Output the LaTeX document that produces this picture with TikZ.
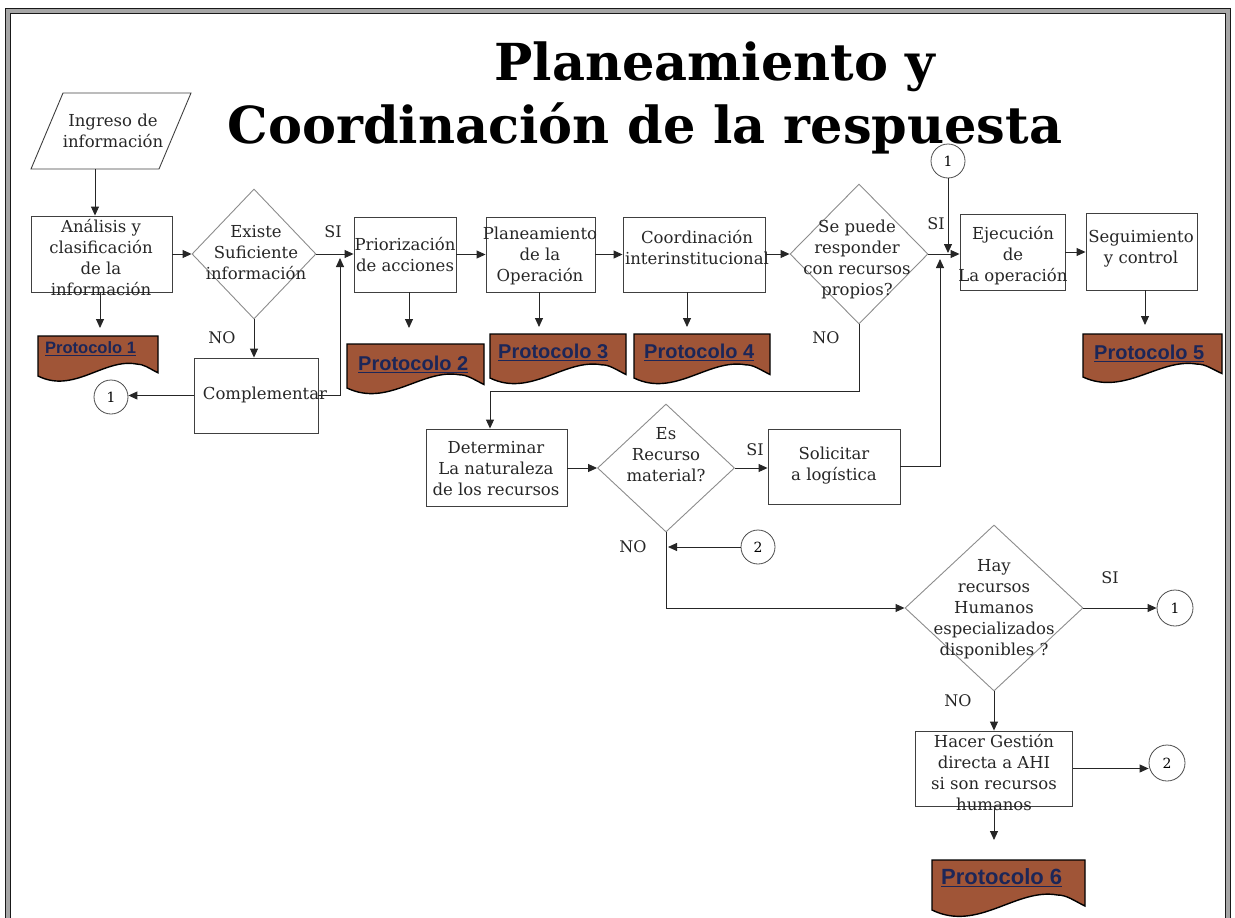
\documentclass[tikz,border=0pt]{standalone}
\usepackage{fontspec}
\setmainfont{DejaVu Serif}
\newfontfamily\protfont{Liberation Sans}
\usetikzlibrary{shapes.geometric,arrows.meta,calc}
\definecolor{docfill}{RGB}{160,85,55}
\definecolor{doctext}{RGB}{28,38,88}
\tikzset{
 arr/.style={-{Triangle[length=9pt,width=8pt]}, line width=0.9pt, draw=black!85},
 boxn/.style={draw=black!75, line width=0.9pt, rectangle, inner sep=0pt},
 dian/.style={draw=black!45, line width=0.9pt, diamond, inner sep=0pt},
 circn/.style={draw=black!70, line width=0.8pt, circle, inner sep=0pt, minimum size=34pt, font=\fontsize{14}{16}\selectfont},
 txt/.style={font=\fontsize{16.5}{21}\selectfont, align=center, text=black!85, inner sep=0pt},
 lab/.style={font=\fontsize{16}{18}\selectfont, text=black!85, inner sep=0pt},
 docshape/.style={fill=docfill, draw=black, line width=1.4pt},
 doctxt/.style={text=doctext, anchor=west, inner sep=0pt},
 ttl/.style={font=\fontsize{51}{58}\selectfont\bfseries, inner sep=0pt, anchor=base},
}
\newcommand{\protdoc}[9]{%
  \draw[docshape] (#2,#3) -- (#2+#4,#3) -- (#2+#4,#3+0.92*#5)
   .. controls (#2+0.92*#4,#3+0.8*#5) and (#2+0.88*#4,#3+0.7*#5) .. (#2+0.82*#4,#3+0.7*#5)
   .. controls (#2+0.55*#4,#3+0.55*#5) and (#2+0.3*#4,#3+1.45*#5) .. (#2,#3+#5) -- cycle;
  \node[doctxt, font=\protfont\bfseries\fontsize{#6}{#6}\selectfont] (#1) at (#7,#8) {\underline{#9}};
}
\begin{document}
\begin{tikzpicture}[x=1pt,y=-1pt]
\useasboundingbox (0,0) rectangle (1235,918);
% frame
\draw[line width=5pt, black!35] (8,11) rectangle (1228,960);
\draw[line width=1.4pt, black!90] (5.5,8.5) rectangle (1230.5,965);
\draw[line width=1.4pt, black!90] (10.5,13.5) rectangle (1225.5,955);
% title
\node[ttl] (t1) at (715,80) {Planeamiento y};
\node[ttl] (t2) at (645,143) {Coordinación de la respuesta};
% input parallelogram
\draw[draw=black!75, line width=0.9pt] (63,93) -- (191,93) -- (159,169) -- (31,169) -- cycle;
\node[txt] (ing) at (113,131) {Ingreso de\\información};
\coordinate (ingB) at (95,169);
% boxes and decisions
\node[boxn, minimum width=141pt, minimum height=76pt] (ana) at (101.5,254) {};
\node[dian, minimum width=124pt, minimum height=130pt] (exi) at (254,254) {};
\node[boxn, minimum width=124pt, minimum height=75pt] (comp) at (256,395.5) {};
\node[boxn, minimum width=102pt, minimum height=75pt] (pri) at (405,254.5) {};
\node[boxn, minimum width=109pt, minimum height=75pt] (pla) at (540.5,254.5) {};
\node[boxn, minimum width=142pt, minimum height=75pt] (coo) at (694,254.5) {};
\node[dian, minimum width=138pt, minimum height=140pt] (sep) at (859,254) {};
\node[boxn, minimum width=105pt, minimum height=76pt] (eje) at (1012.5,252) {};
\node[boxn, minimum width=111pt, minimum height=77pt] (seg) at (1141.5,251.5) {};
\node[boxn, minimum width=141pt, minimum height=77pt] (det) at (496.5,467.5) {};
\node[dian, minimum width=137pt, minimum height=128pt] (esr) at (666,468) {};
\node[boxn, minimum width=132pt, minimum height=75pt] (sol) at (834,466.5) {};
\node[dian, minimum width=178pt, minimum height=166pt] (hay) at (994,608) {};
\node[boxn, minimum width=157pt, minimum height=75pt] (hac) at (994,768.5) {};
% texts
\node[txt] (anat) at (101,258) {Análisis y\\clasificación\\de la\\información};
\node[txt] (exit) at (256,253) {Existe\\Suficiente\\información};
\node[txt] (compt) at (265,395) {Complementar};
\node[txt] (prit) at (405,254.5) {Priorización\\de acciones};
\node[txt] (plat) at (540,256) {Planeamiento\\de la\\Operación};
\node[txt] (coot) at (697,247.5) {Coordinación\\interinstitucional};
\node[txt] (sept) at (857,259.5) {Se puede\\responder\\con recursos\\propios?};
\node[txt] (ejet) at (1013,256) {Ejecución\\de\\La operación};
\node[txt] (segt) at (1141,248.5) {Seguimiento\\y control};
\node[txt] (dett) at (496,469) {Determinar\\La naturaleza\\de los recursos};
\node[txt] (esrt) at (666,455) {Es\\Recurso\\material?};
\node[txt] (solt) at (834,466) {Solicitar\\a logística};
\node[txt] (hayt) at (994,609.5) {Hay\\recursos\\Humanos\\especializados\\disponibles ?};
\node[txt] (hact) at (994,773) {Hacer Gestión\\directa a AHI\\si son recursos\\humanos};
% connectors circles
\node[circn] (c1a) at (111,397) {1};
\node[circn] (c1b) at (948,161) {1};
\node[circn] (c2a) at (758,547) {2};
\node[circn, minimum size=36pt] (c1c) at (1175,608) {1};
\node[circn, minimum size=36pt] (c2b) at (1167,763) {2};
% labels
\node[lab] (si1) at (333,232) {SI};
\node[lab] (no1) at (222,338) {NO};
\node[lab] (si2) at (936,224) {SI};
\node[lab] (no2) at (826,338) {NO};
\node[lab] (si3) at (755,450) {SI};
\node[lab] (no3) at (633,547) {NO};
\node[lab] (si4) at (1110,578) {SI};
\node[lab] (no4) at (958,701) {NO};
% protocol documents
\protdoc{p1}{38}{336}{120}{40}{16.5}{45}{349}{Protocolo 1}
\protdoc{p2}{347}{344}{137}{44}{20}{358}{364}{Protocolo 2}
\protdoc{p3}{490}{334}{136}{44}{20}{498}{352}{Protocolo 3}
\protdoc{p4}{634}{334}{136}{44}{20}{644}{352}{Protocolo 4}
\protdoc{p5}{1083}{334}{139}{43}{20}{1094}{353}{Protocolo 5}
\protdoc{p6}{932}{860}{153}{50}{22}{941}{878}{Protocolo 6}
% junction coordinates
\coordinate (j1) at (340,258);
\coordinate (j2) at (948,253);
\coordinate (j3) at (940,259);
\coordinate (j4) at (668,547);
\coordinate (k1) at (490,391);
\coordinate (p1in) at (100,328);
\coordinate (p2in) at (409,328);
\coordinate (p3in) at (539,327);
\coordinate (p4in) at (687,327);
\coordinate (p5in) at (1145,325);
\coordinate (p6in) at (994,840);
% arrows
\draw[arr] (ingB) -- (ingB |- ana.north);
\draw[arr] (ana.east |- exi.west) -- (exi.west);
\draw[arr] (exi.east) -- (exi.east -| pri.west);
\draw[arr] (exi.south) -- (exi.south |- comp.north);
\draw[arr] (comp.west) -- (comp.west -| c1a.east);
\draw[arr] (comp.east) -| (j1);
\draw[arr] (pri.east) -- (pla.west);
\draw[arr] (pla.east) -- (coo.west);
\draw[arr] (coo.east |- sep.west) -- (sep.west);
\draw[arr] (sep.east) -- (sep.east -| eje.west);
\draw[arr] (c1b.south) -- (j2);
\draw[arr] (sol.east) -| (j3);
\draw[arr] (eje.east) -- (eje.east -| seg.west);
\draw[arr] (sep.south) |- (k1) -- (k1 |- det.north);
\draw[arr] (det.east |- esr.west) -- (esr.west);
\draw[arr] (esr.east) -- (esr.east -| sol.west);
\draw[arr] (c2a.west) -- (j4);
\draw[arr] (esr.south) |- (hay.west);
\draw[arr] (hay.east) -- (c1c.west);
\draw[arr] (hay.south) -- (hac.north);
\draw[arr] (hac.east) -- (hac.east -| c2b.west);
\draw[arr] (p1in |- ana.south) -- (p1in);
\draw[arr] (p2in |- pri.south) -- (p2in);
\draw[arr] (p3in |- pla.south) -- (p3in);
\draw[arr] (p4in |- coo.south) -- (p4in);
\draw[arr] (p5in |- seg.south) -- (p5in);
\draw[arr] (p6in |- hac.south) -- (p6in);
\end{tikzpicture}
\end{document}
